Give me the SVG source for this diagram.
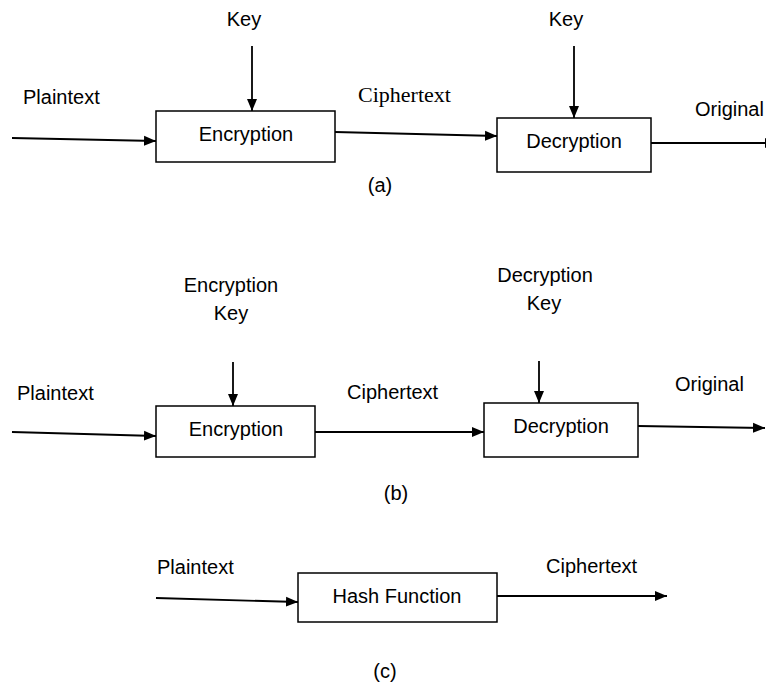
<svg xmlns="http://www.w3.org/2000/svg" width="766" height="683" viewBox="0 0 766 683">
  <style>
    text { font-family: "Liberation Sans", Arial, sans-serif; font-size: 20px; fill: #000; }
    .serif { font-family: "Liberation Serif", "Times New Roman", serif; font-size: 22px; }
    .mid { text-anchor: middle; }
    .box { fill: #fff; stroke: #000; stroke-width: 1.5; }
    .edge { fill: none; stroke: #000; stroke-width: 1.8; marker-end: url(#arrow); }
  </style>
  <defs>
    <marker id="arrow" markerUnits="userSpaceOnUse" markerWidth="13" markerHeight="12" refX="12" refY="5" orient="auto" viewBox="0 0 13 10">
      <path d="M0,0 L12,5 L0,10 z" fill="#000"/>
    </marker>
  </defs>

  <!-- (a) -->
  <g id="a-encryption">
    <rect class="box" x="156" y="111" width="179" height="51"/>
    <text class="mid" x="246" y="141">Encryption</text>
  </g>
  <g id="a-decryption">
    <rect class="box" x="497" y="118" width="154" height="54"/>
    <text class="mid" x="574" y="148">Decryption</text>
  </g>
  <g id="a-labels">
    <text class="mid" x="244" y="26">Key</text>
    <text class="mid" x="566" y="26">Key</text>
    <text x="23" y="104">Plaintext</text>
    <text class="serif" x="358" y="102">Ciphertext</text>
    <text x="695" y="116">Original</text>
    <text class="mid" x="380" y="192">(a)</text>
  </g>

  <!-- (b) -->
  <g id="b-encryption">
    <rect class="box" x="156" y="406" width="159" height="51"/>
    <text class="mid" x="236" y="436">Encryption</text>
  </g>
  <g id="b-decryption">
    <rect class="box" x="484" y="403" width="154" height="54"/>
    <text class="mid" x="561" y="433">Decryption</text>
  </g>
  <g id="b-labels">
    <text class="mid" x="231" y="292">Encryption</text>
    <text class="mid" x="231" y="320">Key</text>
    <text class="mid" x="545" y="282">Decryption</text>
    <text class="mid" x="544" y="310">Key</text>
    <text x="17" y="400">Plaintext</text>
    <text x="347" y="399">Ciphertext</text>
    <text x="675" y="391">Original</text>
    <text class="mid" x="396" y="500">(b)</text>
  </g>

  <!-- (c) -->
  <g id="c-hash">
    <rect class="box" x="298" y="573" width="199" height="49"/>
    <text class="mid" x="397" y="603">Hash Function</text>
  </g>
  <g id="c-labels">
    <text x="157" y="574">Plaintext</text>
    <text x="546" y="573">Ciphertext</text>
    <text class="mid" x="385" y="678">(c)</text>
  </g>

  <g id="connectors">
    <!-- (a) -->
    <line class="edge" x1="252" y1="46" x2="252" y2="111"/>
    <line class="edge" x1="574" y1="46" x2="574" y2="118"/>
    <line class="edge" x1="12" y1="138" x2="156" y2="141"/>
    <line class="edge" x1="335" y1="132" x2="497" y2="136"/>
    <line class="edge" x1="651" y1="143" x2="777" y2="143"/>
    <!-- (b) -->
    <line class="edge" x1="233" y1="362" x2="233" y2="406"/>
    <line class="edge" x1="539" y1="361" x2="539" y2="403"/>
    <line class="edge" x1="12" y1="432" x2="156" y2="436"/>
    <line class="edge" x1="315" y1="432" x2="484" y2="432"/>
    <line class="edge" x1="638" y1="426" x2="765" y2="428"/>
    <!-- (c) -->
    <line class="edge" x1="156" y1="598" x2="298" y2="602"/>
    <line class="edge" x1="497" y1="596" x2="667" y2="596"/>
  </g>
</svg>
